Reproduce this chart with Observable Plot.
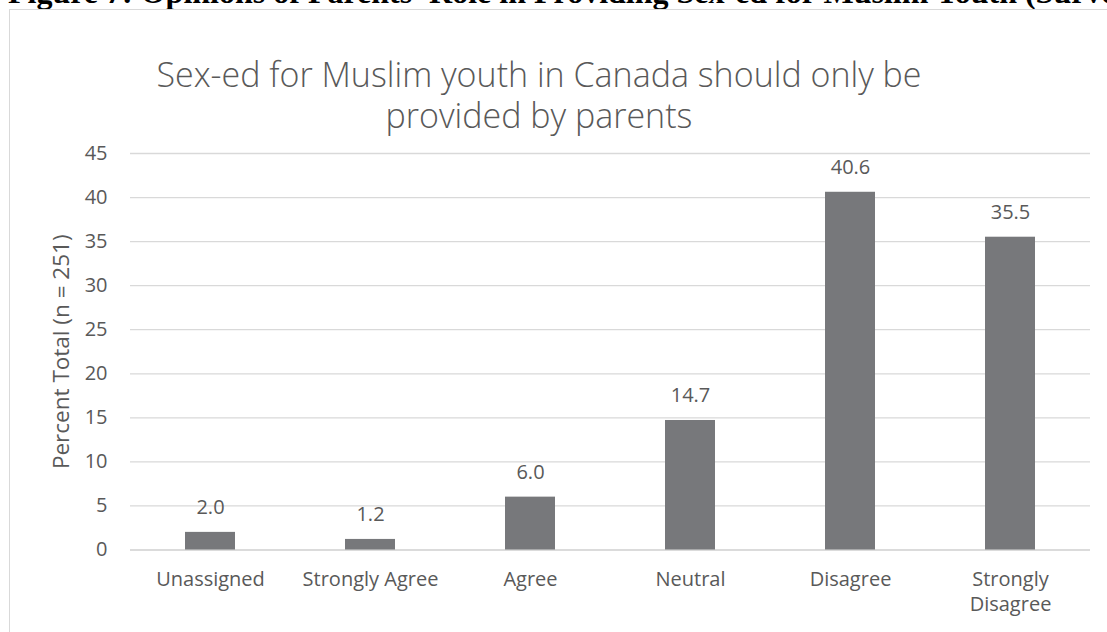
<!DOCTYPE html>
<html>
<head>
<meta charset="utf-8">
<script src="https://cdn.jsdelivr.net/npm/d3@7"></script>
<script src="https://cdn.jsdelivr.net/npm/@observablehq/plot@0.6"></script>
<style>
  html, body { margin: 0; padding: 0; background: #fff; }
  #page { position: relative; width: 1107px; height: 632px; overflow: hidden; background: #fff; }
  #caption { position: absolute; left: 8px; top: -24px; white-space: nowrap;
    font-family: "Liberation Serif", "Times New Roman", serif; font-weight: bold; font-size: 32px; line-height: 32px; color: #000; }
  #frame { position: absolute; left: 9px; top: 9px; width: 1300px; height: 900px; border: 1px solid #d9d9d9; }
  .title { position: absolute; left: 0; width: 1078px; text-align: center; white-space: nowrap;
    font-family: "Open Sans", sans-serif; font-weight: 300; font-size: 34px; line-height: 34px; color: #595959; }
  #title1 { top: 56.5px; }
  #title2 { top: 97.5px; }
  #chart { position: absolute; left: 0; top: 0; }
</style>
</head>
<body>
<div id="page">
  <div id="caption">Figure 7: Opinions of Parents' Role in Providing Sex-ed for Muslim Youth (Survey)</div>
  <div id="frame"></div>
  <div id="chart"></div>
  <div class="title" id="title1">Sex-ed for Muslim youth in Canada should only be</div>
  <div class="title" id="title2">provided by parents</div>
</div>
<script>
const categories = ["Unassigned", "Strongly Agree", "Agree", "Neutral", "Disagree", "Strongly Disagree"];
const tickLabels = ["Unassigned", "Strongly Agree", "Agree", "Neutral", "Disagree", "Strongly\nDisagree"];
const values = [2.0, 1.2, 6.0, 14.7, 40.6, 35.5];
const yTicks = [0, 5, 10, 15, 20, 25, 30, 35, 40, 45];
const yLabel = "Percent Total (n = 251)";

const data = categories.map((c, i) => ({category: c, value: values[i]}));
const labelOf = new Map(categories.map((c, i) => [c, tickLabels[i]]));

const plot = Plot.plot({
  width: 1107,
  height: 632,
  marginLeft: 130,
  marginRight: 17,
  marginTop: 153,
  marginBottom: 82.5,
  style: {fontFamily: "'Open Sans', sans-serif", fontSize: "20px", color: "#595959", background: "transparent", overflow: "visible"},
  x: {domain: categories, paddingInner: 0.6875, paddingOuter: 0.34375, align: 0.5},
  y: {domain: [0, 45]},
  marks: [
    Plot.gridY(yTicks, {stroke: "#d9d9d9", strokeOpacity: 1, strokeWidth: 1.3}),
    Plot.ruleY([0], {stroke: "#d9d9d9", strokeWidth: 1.5}),
    Plot.barY(data, {x: "category", y: "value", fill: "#77787b"}),
    Plot.text(data, {x: "category", y: "value", text: d => d.value.toFixed(1), dy: -25, fill: "#595959", fontSize: 20}),
    Plot.axisY(yTicks, {tickSize: 0, tickPadding: 23, fontSize: 20, label: null, fill: "#595959"}),
    Plot.axisX({tickSize: 0, tickPadding: 18, fontSize: 20, lineHeight: 1.25, label: null, fill: "#595959",
      tickFormat: d => labelOf.get(d)}),
    Plot.text([yLabel], {frameAnchor: "left", textAnchor: "middle", lineAnchor: "middle", rotate: -90, dx: -69, text: d => d, fontSize: 22.5, fill: "#595959"})
  ]
});
document.getElementById("chart").appendChild(plot);
</script>
</body>
</html>
